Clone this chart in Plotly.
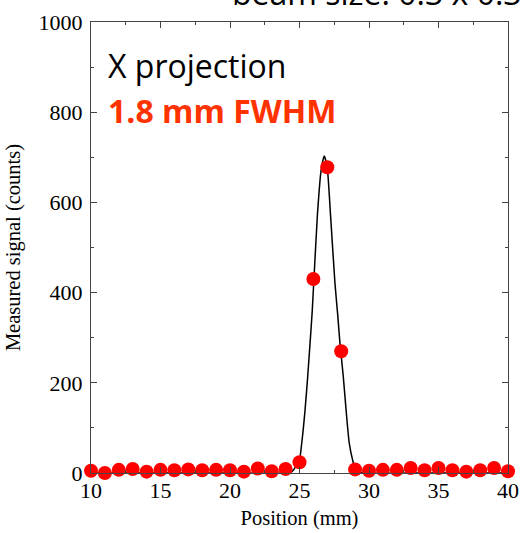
import plotly.graph_objects as go

# Measured data points
position_mm = list(range(10, 41))
signal_counts = [5, 0, 7, 9, 3, 7, 6, 8, 6, 7, 6, 3, 10, 4, 9, 24, 430, 678, 270,
                 8, 5, 7, 7, 11, 6, 11, 6, 3, 6, 11, 4]

# Fit curve
fit_x = [10, 20, 24.0, 24.45, 24.99, 25.16, 25.40, 25.59, 25.76, 25.92, 26.28, 26.55,
         26.78, 27.0, 27.24, 27.55, 27.75, 27.91, 28.15, 28.35, 28.58, 28.82, 29.1, 29.6, 35, 40]
fit_y = [0, 0, 0, 3, 29, 66, 140, 214, 288, 361, 568, 670,
         703, 675, 568, 421, 350, 288, 214, 140, 66, 29, 3, 0, 0, 0]

x_ticks = [10, 15, 20, 25, 30, 35, 40]
y_ticks = [0, 200, 400, 600, 800, 1000]

fig = go.Figure()
fig.add_trace(go.Scatter(x=fit_x, y=fit_y, mode="lines",
                         line=dict(color="black", width=1.5, shape="spline", smoothing=0.6),
                         hoverinfo="skip", cliponaxis=False))
fig.add_trace(go.Scatter(x=position_mm, y=signal_counts, mode="markers",
                         marker=dict(color="#ff0000", size=14),
                         cliponaxis=False))

axis_font = dict(family="Liberation Serif, Times New Roman, serif", size=22, color="black")
title_font = dict(family="Liberation Serif, Times New Roman, serif", size=20.5, color="black")

fig.update_layout(
    width=521, height=533,
    margin=dict(l=91, r=13, t=22, b=60, autoexpand=False),
    paper_bgcolor="white", plot_bgcolor="white",
    showlegend=False,
    xaxis=dict(range=[10, 40], tickvals=x_ticks, ticks="inside", ticklen=6,
               showline=True, linecolor="#444", linewidth=1, mirror="ticks",
               showgrid=False, zeroline=False, tickfont=axis_font, automargin=False,
               ticklabelstandoff=-2,
               minor=dict(ticks="inside", ticklen=3, dtick=2.5, tick0=10, tickcolor="#444"),
               tickcolor="#444",
               title=dict(text="Position (mm)", font=title_font, standoff=8)),
    yaxis=dict(range=[0, 1000], tickvals=y_ticks, ticks="inside", ticklen=6,
               showline=True, linecolor="#444", linewidth=1, mirror="ticks",
               showgrid=False, zeroline=False, tickfont=axis_font, automargin=False,
               ticklabelstandoff=3,
               minor=dict(ticks="inside", ticklen=3, dtick=100, tickcolor="#444"),
               tickcolor="#444",
               title=dict(text="Measured signal (counts)", font=title_font, standoff=12)),
)

fig.add_annotation(text="X projection", xref="paper", yref="paper", x=0.037, y=0.956,
                   xanchor="left", yanchor="top", showarrow=False,
                   font=dict(family="Open Sans, sans-serif", size=32, color="black"))
fig.add_annotation(text="<b>1.8 mm FWHM</b>", xref="paper", yref="paper", x=0.037, y=0.856,
                   xanchor="left", yanchor="top", showarrow=False,
                   font=dict(family="Open Sans, sans-serif", size=32, color="#ff3300"))
fig.add_annotation(text="beam size: 0.3 x 0.3 mm", xref="paper", yref="paper", x=0.334, y=1.0,
                   xanchor="left", yanchor="bottom", yshift=6, showarrow=False,
                   font=dict(family="Open Sans, sans-serif", size=32, color="black"))

fig.write_html("out.html")
